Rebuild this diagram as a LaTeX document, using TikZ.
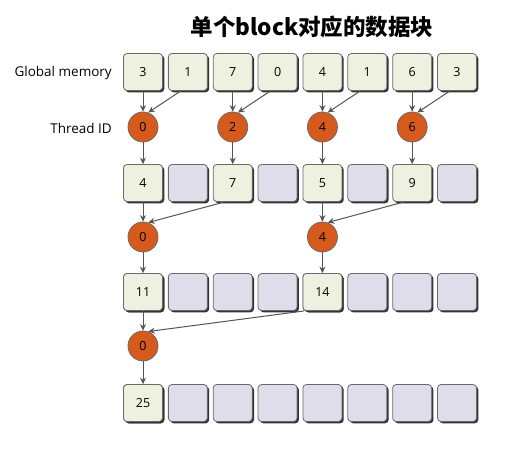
\documentclass[tikz,border=0pt]{standalone}
\usepackage{fontspec}
\newfontfamily\lab{Open Sans}
\newfontfamily\cjk{Noto Sans CJK SC}
\usetikzlibrary{shadows,arrows.meta}
\definecolor{cellg}{HTML}{EEF0E0}
\definecolor{celll}{HTML}{E0DDEB}
\definecolor{thrc}{HTML}{D65A1C}
\definecolor{edgec}{HTML}{6A6A6A}
\definecolor{arrc}{HTML}{555555}
\tikzset{
  cell/.style={draw=edgec, line width=0.8pt, rounded corners=3.5pt, minimum width=39pt, minimum height=37pt, inner sep=0pt, font=\lab\fontsize{12.5}{14}\selectfont,
    drop shadow={shadow xshift=1.8pt, shadow yshift=-1.8pt, fill=black!80, opacity=1}},
  full/.style={cell, fill=cellg},
  emptycell/.style={cell, fill=celll},
  thr/.style={circle, draw=edgec, line width=0.8pt, fill=thrc, minimum size=30pt, inner sep=0pt, font=\lab\fontsize{12.5}{14}\selectfont},
  arr/.style={-{Stealth[length=6.5pt,width=6pt]}, draw=arrc, line width=1pt},
  lbl/.style={anchor=east, inner sep=0pt, font=\lab\fontsize{13.5}{15}\selectfont}
}
\begin{document}
\begin{tikzpicture}[x=1pt,y=-1pt]
\useasboundingbox (0,0) rectangle (528,457);
\fill[white] (0,0) rectangle (528,457);
\node[font=\cjk\bfseries\fontsize{22.5}{25}\selectfont] (title) at (312,27) {单个block对应的数据块};
\node[lbl] (lg) at (112,73) {Global memory};
\node[lbl] (lt) at (112,128) {Thread ID};
% row 1
\foreach \v [count=\i from 0] in {3,1,7,0,4,1,6,3}
  \node[full] (g\i) at (143+44.86*\i,72) {\v};
% row 2
\foreach \v [count=\i from 0] in {4,,7,,5,,9,}{
  \ifnum\i=0 \node[full] (b\i) at (143+44.86*\i,183) {\v};
  \else\ifodd\i \node[emptycell] (b\i) at (143+44.86*\i,183) {};
  \else \node[full] (b\i) at (143+44.86*\i,183) {\v};\fi\fi}
% row 3
\foreach \i in {0,...,7}
  \node[emptycell] (c\i) at (143+44.86*\i,292) {};
\node[full] (c0) at (143,292) {11};
\node[full] (c4) at (143+44.86*4,292) {14};
% row 4
\foreach \i in {0,...,7}
  \node[emptycell] (d\i) at (143+44.86*\i,403) {};
\node[full] (d0) at (143,403) {25};
% thread circles
\foreach \i in {0,2,4,6}
  \node[thr] (t\i) at (143+44.86*\i,127) {\i};
\node[thr] (u0) at (143,237) {0};
\node[thr] (u4) at (143+44.86*4,237) {4};
\node[thr] (w0) at (143,346) {0};
% arrows row 1
\foreach \i/\j in {0/1,2/3,4/5,6/7}{
  \draw[arr] (g\i.south) -- (t\i.north);
  \draw[arr] ([xshift=-7pt]g\j.south) -- (t\i.70);
  \draw[arr] (t\i.south) -- (b\i.north);
}
% arrows row 2
\foreach \i/\j in {0/2,4/6}{
  \draw[arr] (b\i.south) -- (u\i.north);
  \draw[arr] ([xshift=-8pt]b\j.south) -- (u\i.70);
  \draw[arr] (u\i.south) -- (c\i.north);
}
% arrows row 3
\draw[arr] (c0.south) -- (w0.north);
\draw[arr] ([xshift=-18pt]c4.south) -- (w0.70);
\draw[arr] (w0.south) -- (d0.north);
\end{tikzpicture}
\end{document}
